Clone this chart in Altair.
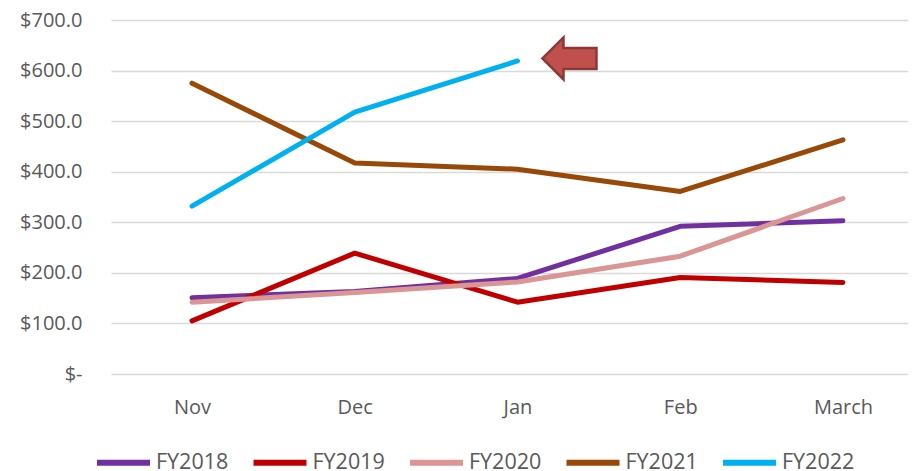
import json
import altair as alt
import pandas as pd

months = ["Nov", "Dec", "Jan", "Feb", "March"]
series = ["FY2018", "FY2019", "FY2020", "FY2021", "FY2022"]
fy2018 = [151, 163, 189, 292, 303]
fy2019 = [105, 239, 142, 191, 181]
fy2020 = [142, 161, 182, 233, 347]
fy2021 = [575, 417, 405, 361, 463]
fy2022 = [332, 518, 619, None, None]
colors = ["#7030A0", "#C00000", "#DA9694", "#984807", "#00B0F0"]
y_ticks = [0, 100, 200, 300, 400, 500, 600, 700]

# annotation arrow anchor (points at the last FY2022 value)
arrow_month = ["Jan"]
arrow_value = [620]

rows = []
for name, vals in zip(series, [fy2018, fy2019, fy2020, fy2021, fy2022]):
    for i, (m, v) in enumerate(zip(months, vals)):
        if v is not None:
            rows.append({"Idx": i, "Month": m, "Value": v, "Series": name})
df = pd.DataFrame(rows)
arrow_df = pd.DataFrame({"Idx": [months.index(m) for m in arrow_month],
                         "Value": arrow_value})

FONT = "Open Sans"
GRAY = "#595959"
X_DOMAIN = [-0.4977, 4.3996]
month_expr = json.dumps(months).replace('"', "'") + "[round(datum.value)]"

x_scale = alt.Scale(domain=X_DOMAIN, nice=False, zero=False)
y_scale = alt.Scale(domain=[0, 700], nice=False, zero=True)

x = alt.X("Idx:Q", scale=x_scale,
          axis=alt.Axis(title=None, domain=False, ticks=False, tickSize=0, grid=False,
                        values=list(range(len(months))), labelExpr=month_expr,
                        labelFont=FONT, labelFontSize=20, labelColor=GRAY,
                        labelPadding=23, labelAngle=0, labelFlush=False,
                        labelOverlap=False))
y = alt.Y("Value:Q", scale=y_scale,
          axis=alt.Axis(title=None, domain=False, ticks=False, tickSize=0, values=y_ticks,
                        grid=True, gridColor="#D9D9D9", gridWidth=1.5,
                        labelFont=FONT, labelFontSize=20, labelColor=GRAY,
                        labelPadding=29,
                        labelExpr="datum.value == 0 ? '$-\u00a0' : '$' + format(datum.value, '.1f')"))

lines = alt.Chart(df).mark_line(strokeWidth=5, strokeCap="round", strokeJoin="round").encode(
    x=x, y=y,
    color=alt.Color("Series:N", sort=series,
                    scale=alt.Scale(domain=series, range=colors),
                    legend=alt.Legend(title=None, orient="none", direction="horizontal",
                                      columns=5, legendX=-17, legendY=413,
                                      symbolType="stroke", symbolSize=2809,
                                      symbolStrokeWidth=6, labelFont=FONT,
                                      labelFontSize=21.5, labelColor=GRAY,
                                      labelOffset=3, columnPadding=12.5, padding=0)),
    detail="Series:N",
    order=alt.Order("Idx:Q"),
)

arrow_path = "M 25 -2 L 46 -23 L 46 -12.5 L 79 -12.5 L 79 8.5 L 46 8.5 L 46 19 Z"
arrow = alt.Chart(arrow_df).mark_point(
    shape=arrow_path, size=4, filled=True, fill="#C0504D", stroke="#8C3836",
    strokeWidth=2.5, opacity=1,
).encode(x=x, y=y)

chart = (
    alt.layer(lines, arrow)
    .properties(
        width=797, height=354,
        autosize=alt.AutoSizeParams(type="none"),
        padding={"left": 103, "top": 12, "right": 0, "bottom": 97},
    )
    .configure_view(fill="#ffffff", stroke="#ffffff", strokeWidth=0, strokeOpacity=0)
    .configure_axis(domain=False, domainColor="#ffffff", domainOpacity=0,
                    ticks=False, tickOpacity=0)
    .configure_axisX(grid=False, gridOpacity=0)
    .configure_axisY(domain=False, domainColor="#ffffff")
    .configure(background="white", style={"cell": {"stroke": "#ffffff", "strokeWidth": 0}})
)

chart.save("out.html", embed_options={"renderer": "svg", "actions": False})
